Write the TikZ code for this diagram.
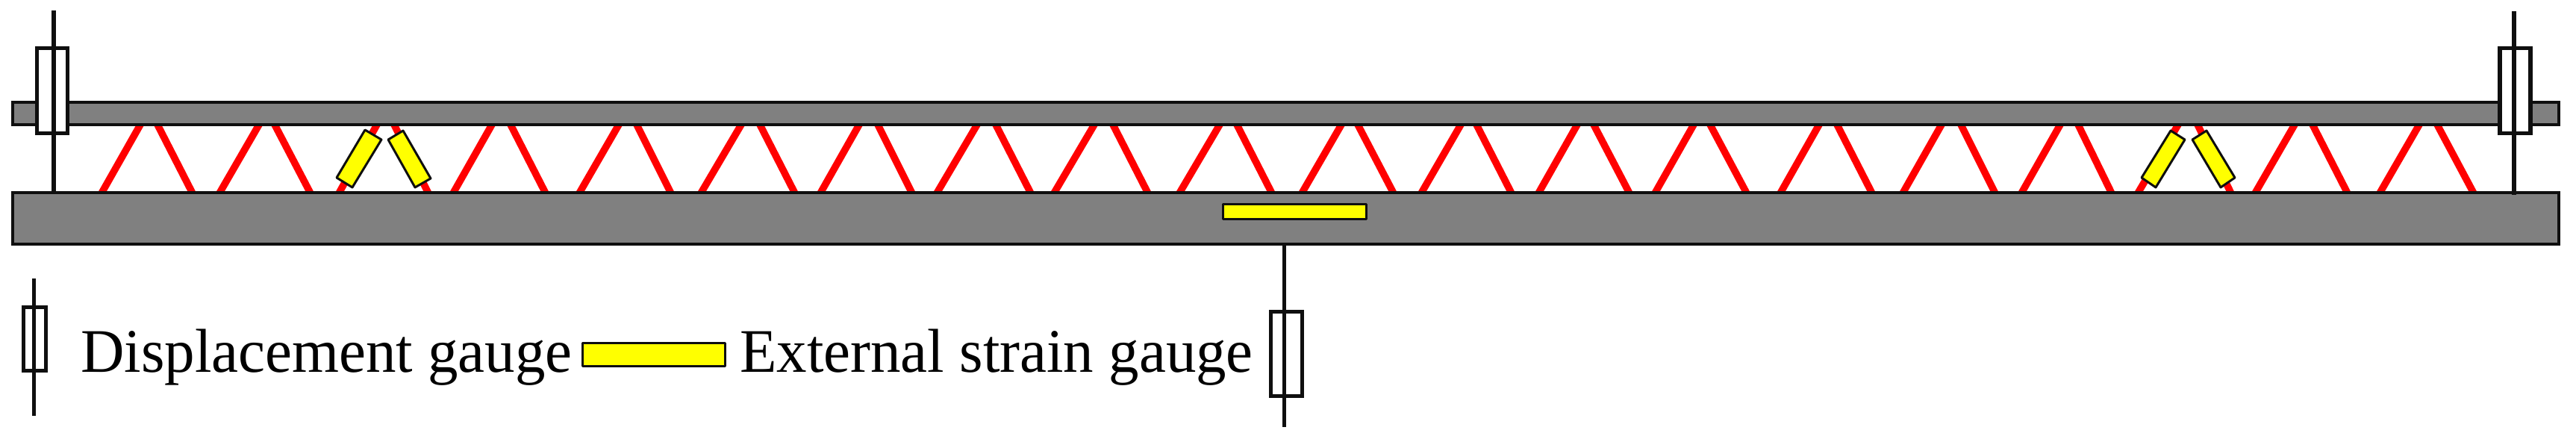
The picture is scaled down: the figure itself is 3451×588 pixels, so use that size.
\documentclass[tikz,border=0pt]{standalone}
\usepackage{fontspec}
\setmainfont{Liberation Serif}
\definecolor{barfill}{RGB}{128,128,128}
\definecolor{strutred}{RGB}{255,0,0}
\definecolor{gaugeyellow}{RGB}{255,255,0}
\definecolor{ink}{RGB}{15,15,15}
\tikzset{
  barbox/.style={draw=ink,line width=3.2pt,fill=barfill},
  strut/.style={draw=strutred,line width=9.5pt,shorten <=-6pt,shorten >=-6pt},
  yellowbox/.style={draw=ink,line width=3pt,fill=gaugeyellow,line join=round},
  casing/.style={draw=ink,line width=5.5pt,fill=white},
  rod/.style={draw=ink,line width=5.5pt},
  thincasing/.style={draw=ink,line width=5pt,fill=white},
  thinrod/.style={draw=ink,line width=5pt},
  legendtext/.style={anchor=base west,inner sep=0pt,font=\fontsize{83}{99}\selectfont}
}
\begin{document}
\begin{tikzpicture}[x=1pt,y=-1pt]
\useasboundingbox (0,0) rectangle (3451,588);
\fill[white] (0,0) rectangle (3451,588);
% diagonal struts
\foreach \a/\b/\c/\d in {137/188/211/257,295/347/368/415,455/505/528/573,608/659/684/730,
  777/829/853/898,940/993/1018/1064,1100/1151/1176/1221,1256/1309/1334/1380,
  1413/1466/1491/1537,1581/1634/1657/1703,1745/1797/1819/1866,1905/1957/1978/2024,
  2062/2113/2135/2182,2218/2269/2291/2339,2386/2437/2461/2507,2550/2601/2627/2672,
  2709/2760/2784/2828,2865/2918/2944/2988,3022/3074/3098/3144,3189/3241/3265/3313}{
  \draw[strut] (\a,257) -- (\b,167);
  \draw[strut] (\c,167) -- (\d,257);
}
% bars
\path[barbox] (17,137) rectangle (3428,167);
\path[barbox] (17,258) rectangle (3428,327);
% strain gauges
\path[yellowbox] (489,174) -- (511,187) -- (472,251) -- (451,238) -- cycle;
\path[yellowbox] (520,187) -- (540,175) -- (577,239) -- (556,251) -- cycle;
\path[yellowbox] (2908,175) -- (2927,187) -- (2888,251) -- (2869,238) -- cycle;
\path[yellowbox] (2937,187) -- (2956,175) -- (2994,238) -- (2975,251) -- cycle;
\path[yellowbox] (1638.5,273.5) rectangle (1830,293.5);
% displacement gauges
\path[casing] (49.5,64.5) rectangle (90.5,178.5);
\draw[rod] (72,14) -- (72,259);
\path[casing] (3349,64.5) rectangle (3390,178.5);
\draw[rod] (3368,15) -- (3368,261);
\path[thincasing] (1702.5,417.5) rectangle (1744.5,530.5);
\draw[thinrod] (1720,325) -- (1720,572);
% legend
\path[thincasing] (31,411) rectangle (61,496);
\draw[thinrod] (45,373) -- (45,557);
\node[legendtext] (disp) at (108,498) {\scalebox{.975}[1]{Displacement gauge}};
\path[yellowbox] (780,459) rectangle (971,490);
\node[legendtext] (ext) at (991,498) {\scalebox{.975}[1]{External strain gauge}};
\end{tikzpicture}
\end{document}
